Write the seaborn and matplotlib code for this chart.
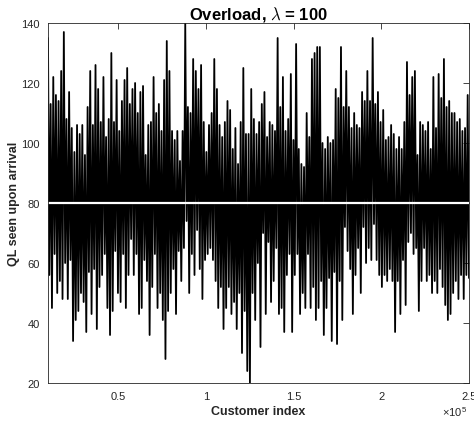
import numpy as np
import pandas as pd
import matplotlib
matplotlib.use("Agg")
import matplotlib.pyplot as plt
import seaborn as sns

# ---- data (local maxima / minima of the queue-length trace) ----
highs_a = [135,113,122,116,114,124,137,108,117,105,97,106,103,106,96,112,124,106,126,118,107,122,102,108]
lows_a = [56,45,63,50,54,48,60,48,61,34,41,44,50,47,37,57,43,58,38,52,56,63,45,36]
highs_b = [130,107,121,104,114,121,125,113,118,120,110,117,119,96,106,107,122,110,113,104,121,134,124,104]
lows_b = [44,64,50,47,63,45,56,68,56,63,43,45,61,54,36,52,63,45,50,41,28,44,50,58]
highs_c = [101,104,94,104,140,112,110,128,124,118,126,107,97,106,110,128,118,106,102,107,114,111,98,105,93,107,125,103]
lows_c = [43,64,54,65,74,50,63,56,71,58,48,61,63,65,61,54,45,52,38,45,52,43,47,38,50,30,44,24]
highs_d = [103,118,108,103,107,113,117,102,107,106,104,135,112,122,104,108,123,101,133,98,93,92,110,102,128,130,132,132,100]
lows_d = [20,50,41,60,32,70,43,67,47,54,65,43,45,37,56,63,37,56,63,43,50,45,63,45,52,41,45,54,36]
highs_e = [98,102,100,101,118,115,132,112,124,112,105,110,106,105,117,114,124,114,135,113,117,107,111,101,102,106,103,98,102]
lows_e = [45,55,34,57,33,54,41,72,64,58,43,56,65,50,72,60,65,61,73,61,56,52,56,54,58,54,37,54,43]
highs_f = [98,107,127,116,122,124,96,107,106,104,107,98,122,105,123,115,128,112,114,110,110,107,108,104,105,116]
lows_f = [61,46,67,70,63,65,44,54,65,54,56,50,54,50,58,52,46,41,43,50,54,48,56,48,56,55]

first_customer = 10000
last_customer = 250000
mean_level = 80

x_ticks = [50000, 100000, 150000, 200000, 250000]
x_tick_labels = ["0.5", "1", "1.5", "2", "2.5"]
y_ticks = [20, 40, 60, 80, 100, 120, 140]

highs = highs_a + highs_b + highs_c + highs_d + highs_e + highs_f
lows = lows_a + lows_b + lows_c + lows_d + lows_e + lows_f
ql = np.empty(2 * len(highs))
ql[0::2] = highs
ql[1::2] = lows
idx = np.linspace(first_customer, last_customer, len(ql))
df = pd.DataFrame({"Customer index": idx, "QL": ql})

# ---- style ----
sns.set_theme(style="white")
plt.rcParams["font.family"] = ["Liberation Sans", "DejaVu Sans"]
plt.rcParams["mathtext.fontset"] = "cm"
txt = "#262626"

fig = plt.figure(figsize=(4.74, 4.27), dpi=100)
ax = fig.add_axes([48/474, 1-384/427, (469-48)/474, (384-24)/427])

sns.lineplot(data=df, x="Customer index", y="QL", color="black", lw=1.3,
             estimator=None, sort=False, ax=ax)
ax.axhline(mean_level, color="white", lw=1.6)

ax.set_xlim(first_customer, last_customer)
ax.set_ylim(20, 140)
ax.set_xticks(x_ticks)
ax.set_xticklabels(x_tick_labels)
ax.set_yticks(y_ticks)
ax.tick_params(direction="in", length=4, width=0.6, colors=txt, labelsize=8,
               top=True, right=True, pad=6)
for s in ax.spines.values():
    s.set_visible(True)
    s.set_color(txt)
    s.set_linewidth(0.6)

ax.set_xlabel("Customer index", fontsize=9, fontweight="bold", color=txt, labelpad=3)
ax.set_ylabel("QL seen upon arrival", fontsize=9, fontweight="bold", color=txt, labelpad=1)
ax.set_title(r"Overload, $\lambda$ = 100", fontsize=12, fontweight="bold", color="black", pad=3)
ax.text(0.995, -0.06, r"×10$^{\mathregular{5}}$", transform=ax.transAxes, ha="right", va="top",
        fontsize=8, color=txt)

fig.savefig("out.png", dpi=100)
